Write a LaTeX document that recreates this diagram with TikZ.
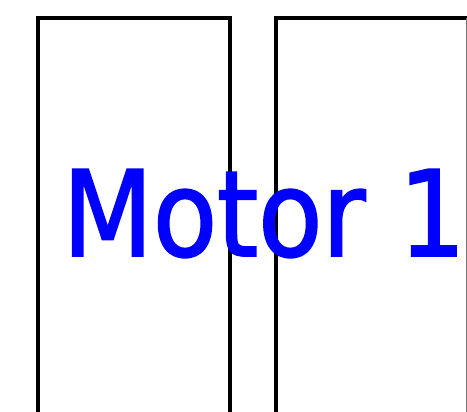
\documentclass[tikz,border=0pt]{standalone}
\usepackage{fontspec}
\newfontfamily\motorfont[FakeBold=1.6]{DejaVu Sans Condensed}
\usetikzlibrary{positioning}
\tikzset{
  housing/.style={draw=black,line width=3.4pt,line join=miter},
  motorlabel/.style={text=blue,font=\motorfont\fontsize{119}{119}\selectfont,inner sep=0pt}
}
\begin{document}
\begin{tikzpicture}[x=1pt,y=1pt]
  \useasboundingbox (0,0) rectangle (467,412);
  \clip (0,0) rectangle (467,412);
  % Left housing
  \draw[housing] (38,-5) -- (38,394) -- (230,394) -- (230,-5);
  % Right housing
  \draw[housing] (276,-5) -- (276,394) -- (480,394);
  \draw[draw=black!55,line width=1.4pt] (466.5,394) -- (466.5,-5);
  % Label
  \node[motorlabel,anchor=base,xscale=0.98] (motor) at (264,156) {Motor 1};
\end{tikzpicture}
\end{document}
